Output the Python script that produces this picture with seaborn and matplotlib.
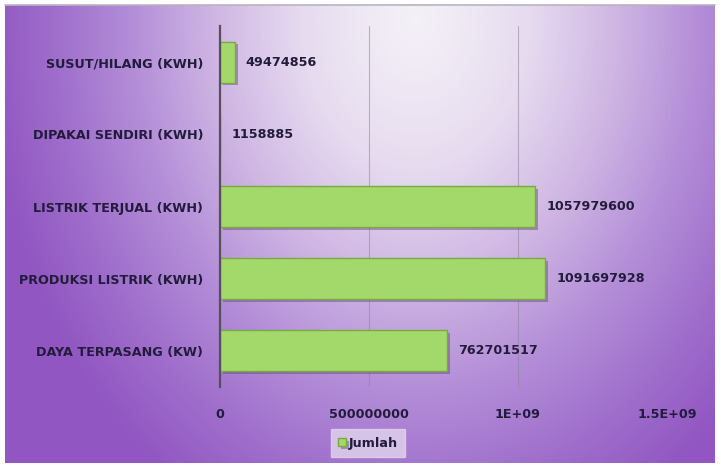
import numpy as np
import pandas as pd
import matplotlib
matplotlib.use("Agg")
import matplotlib.pyplot as plt
import matplotlib.patheffects as pe
from matplotlib.colors import LinearSegmentedColormap
import seaborn as sns

# data
categories = [
    "SUSUT/HILANG (KWH)",
    "DIPAKAI SENDIRI (KWH)",
    "LISTRIK TERJUAL (KWH)",
    "PRODUKSI LISTRIK (KWH)",
    "DAYA TERPASANG (KW)",
]
jumlah = [49474856, 1158885, 1057979600, 1091697928, 762701517]
tick_values = [0, 500000000, 1000000000, 1500000000]
tick_labels = ["0", "500000000", "1E+09", "1.5E+09"]
series_name = "Jumlah"

df = pd.DataFrame({"kategori": categories, series_name: jumlah})

sns.set_theme(style="white")
plt.rcParams["font.family"] = ["DejaVu Sans"]
plt.rcParams["font.weight"] = "bold"

text_color = "#221c3c"
bar_color = "#a2d96a"
fs = 9.2

fig = plt.figure(figsize=(7.21, 4.69), dpi=100)
fig.patch.set_facecolor("white")

# radial purple background, light spot near the top middle
bg_ax = fig.add_axes([5 / 721, 6 / 469, 710 / 721, 458 / 469])
h, w = 458, 710
yy, xx = np.mgrid[0:h, 0:w]
r = np.sqrt(((xx - 410) / 430.0) ** 2 + ((yy - 15) / 560.0) ** 2)
r = np.clip(r, 0, 1) ** 1.2
bg_cmap = LinearSegmentedColormap.from_list(
    "bg", ["#f4f0f7", "#e6dbef", "#cfb6e3", "#b48fd8", "#a070cc", "#9156c2"])
bg_ax.imshow(r, cmap=bg_cmap, vmin=0, vmax=1, aspect="auto", interpolation="bilinear")
bg_ax.set_axis_off()

# thin grey line at the top of the chart frame
fig.add_artist(plt.Line2D([5 / 721, 715 / 721], [463.5 / 469, 463.5 / 469],
                          color="#b8b4bc", lw=1.2))

ax = fig.add_axes([220 / 721, 82 / 469, 447 / 721, 361 / 469])
ax.patch.set_alpha(0)

sns.barplot(data=df, y="kategori", x=series_name, orient="h", color=bar_color,
            saturation=1, width=0.57, edgecolor="#7aa845", linewidth=1.0, ax=ax,
            label=series_name, zorder=3)

for p in ax.patches:
    p.set_path_effects([pe.SimplePatchShadow(offset=(2, -2), shadow_rgbFace="#5b4a6e", alpha=0.45),
                        pe.Normal()])

ax.set_xlim(0, 1500000000)
ax.set_ylim(len(categories) - 0.5, -0.5)
ax.set_xticks(tick_values)
ax.set_xticklabels(tick_labels)
ax.set_xlabel("")
ax.set_ylabel("")

for v in tick_values[1:]:
    ax.axvline(v, color="#8e8496", lw=0.8, alpha=0.55, zorder=1)

for s in ["top", "right", "bottom"]:
    ax.spines[s].set_visible(False)
ax.spines["left"].set_color("#55505c")
ax.spines["left"].set_linewidth(1.6)
ax.spines["left"].set_zorder(4)

ax.tick_params(axis="x", length=0, pad=15, labelsize=fs, labelcolor=text_color)
ax.tick_params(axis="y", length=0, pad=12, labelsize=fs, labelcolor=text_color)
for t in ax.get_xticklabels() + ax.get_yticklabels():
    t.set_fontweight("bold")

for p, v in zip(ax.patches, jumlah):
    ax.annotate(f"{v}", (p.get_width(), p.get_y() + p.get_height() / 2),
                xytext=(8, 0), textcoords="offset points", va="center", ha="left",
                fontsize=fs, fontweight="bold", color=text_color)

leg = ax.legend(loc="center", bbox_to_anchor=(368 / 721, 26 / 469),
                bbox_transform=fig.transFigure, frameon=True, fontsize=fs,
                handlelength=0.6, handleheight=0.6, handletextpad=0.2,
                borderpad=0.6, fancybox=False)
leg.get_frame().set_facecolor("#e2d6ee")
leg.get_frame().set_edgecolor("#e2d6ee")
for t in leg.get_texts():
    t.set_color(text_color)
    t.set_fontweight("bold")

fig.savefig("out.png", dpi=100)
